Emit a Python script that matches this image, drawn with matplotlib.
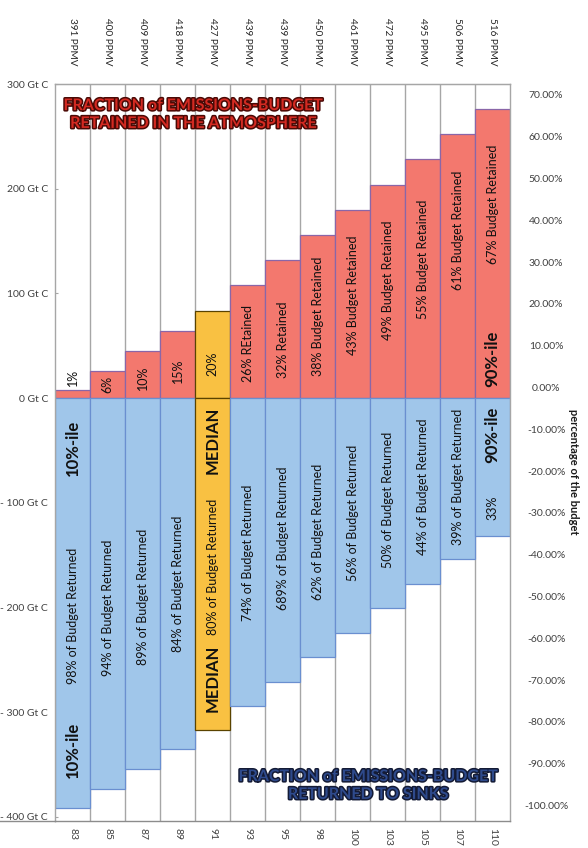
import matplotlib
matplotlib.use('Agg')
import matplotlib.pyplot as plt
import matplotlib.patheffects as pe
from matplotlib.lines import Line2D
from matplotlib.ticker import FixedLocator

plt.rcParams['font.family'] = ['Lato', 'DejaVu Sans']

# concentration reached for each scenario (top axis)
ppmv = [391, 400, 409, 418, 427, 439, 439, 450, 461, 472, 495, 506, 516]
top_labels = [f"{p} PPMV" for p in ppmv]
# bottom axis labels (cut off in the original)
bottom_labels = ["83", "85", "87", "89", "91", "93", "95", "98", "100", "103", "105", "107", "110"]

# Gt C kept in the atmosphere / returned to sinks
retained_gt = [8, 26, 45, 64, 83, 108, 132, 156, 180, 204, 228, 252, 276]
returned_gt = [392, 373, 354, 335, 317, 294, 271, 247, 224, 201, 178, 154, 132]

retained_text = ["1%", "6%", "10%", "15%", "20%", "26% REtained", "32% Retained",
                 "38% Budget Retained", "43% Budget Retained", "49% Budget Retained",
                 "55% Budget Retained", "61% Budget Retained", "67% Budget Retained"]
returned_text = ["98% of Budget Returned", "94% of Budget Returned", "89% of Budget Returned",
                 "84% of Budget Returned", "80% of Budget Returned", "74% of Budget Returned",
                 "689% of Budget Returned", "62% of Budget Returned", "56% of Budget Returned",
                 "50% of Budget Returned", "44% of Budget Returned", "39% of Budget Returned",
                 "33%"]
median_idx = 4

# where the labels sit (Gt C)
retained_label_y = [19.6, 12.9, 19.6, 25.8, 33, 52.5, 55.9, 78, 98.4, 113, 133, 160, 185]
returned_label_y = [-208, -200.6, -189.6, -177, -161, -147.6, -134, -127.5, -110, -97.5, -84.5, -75, -104.6]
big_labels = [("10%-ile", 0, -47.3), ("10%-ile", 0, -336), ("MEDIAN", 4, -40),
              ("MEDIAN", 4, -268), ("90%-ile", 12, 37.7), ("90%-ile", 12, -35.4)]

red = '#F3786E'
blue = '#A0C6EA'
gold = '#F9C142'
grey = '#A6A6A6'

x = list(range(len(ppmv)))
up_colors = [gold if i == median_idx else red for i in x]
dn_colors = [gold if i == median_idx else blue for i in x]
up_edges = ['#5A4300' if i == median_idx else '#8A66A8' for i in x]
dn_edges = ['#5A4300' if i == median_idx else '#6A8FD0' for i in x]

fig = plt.figure(figsize=(5.88, 8.48), dpi=100)
ax = fig.add_axes([55 / 588, 1 - 821 / 848, 455 / 588, 737 / 848])

ax.bar(x, retained_gt, width=1.0, color=up_colors, edgecolor=up_edges, linewidth=0.9, zorder=2)
ax.bar(x, [-v for v in returned_gt], width=1.0, color=dn_colors, edgecolor=dn_edges, linewidth=0.9, zorder=2)

ax.set_xlim(-0.5, len(x) - 0.5)
ax.set_ylim(-404, 300)

# vertical category grid lines
ax.xaxis.set_minor_locator(FixedLocator([i + 0.5 for i in x[:-1]]))
ax.grid(True, which='minor', axis='x', color=grey, linewidth=1.0, zorder=0)
ax.set_axisbelow(True)

ax.set_xticks(x)
ax.set_xticklabels(bottom_labels, rotation=-90, fontsize=7.5, color='#404040')
ax.tick_params(axis='x', which='both', length=0, pad=5)

sec = ax.secondary_xaxis('top')
sec.set_xticks(x)
sec.set_xticklabels(top_labels, rotation=-90, fontsize=7.2, color='#262626')
sec.tick_params(length=0, pad=13)
sec.spines['top'].set_color(grey)

yt = [300, 200, 100, 0, -100, -200, -300, -400]
ax.set_yticks(yt)
ax.set_yticklabels([f"{v} Gt C" if v >= 0 else f"- {-v} Gt C" for v in yt], fontsize=7.5, color='#404040')
ax.tick_params(axis='y', length=2, direction='in', pad=5, color=grey)

for s in ax.spines.values():
    s.set_color(grey)
    s.set_linewidth(1.0)
ax.spines['bottom'].set_color('#8C8C8C')
# horizontal axis line runs on to the left edge
fig.add_artist(Line2D([0, 55 / 588], [1 - 821 / 848] * 2, color='#8C8C8C', linewidth=1.0))

ax2 = ax.twinx()
ax2.set_ylim(-103.7, 72.6)
pt = list(range(-100, 71, 10))
ax2.set_yticks(pt)
ax2.set_yticklabels([f"{v:.2f}%" for v in pt], fontsize=7.5, color='#404040')
ax2.tick_params(axis='y', length=0, pad=26)
for lab in ax2.get_yticklabels():
    lab.set_horizontalalignment('center')
for s in ax2.spines.values():
    s.set_visible(False)
fig.text(573 / 588, 1 - 472 / 848, "percentage of the budget", rotation=-90,
         ha='center', va='center', fontsize=8, fontweight='bold', color='#1a1a1a')

# labels in the bars
for i in x:
    ax.text(i, retained_label_y[i], retained_text[i], rotation=90, ha='center', va='center',
            fontsize=9, color='#111111', zorder=3)
    ax.text(i, returned_label_y[i], returned_text[i], rotation=90, ha='center', va='center',
            fontsize=9, color='#111111', zorder=3)
for txt, i, yv in big_labels:
    ax.text(i, yv, txt, rotation=90, ha='center', va='center', fontsize=12,
            fontweight='bold', color='#111111', zorder=3)

# headings
ax.text(193 / 588, 1 - 115 / 848, "FRACTION of EMISSIONS-BUDGET\nRETAINED IN THE ATMOSPHERE",
        transform=fig.transFigure, ha='center', va='center', fontsize=11.5, fontweight='bold',
        color='#D42A22', linespacing=1.35, zorder=4,
        path_effects=[pe.withStroke(linewidth=2.2, foreground='#4A0A06')])
ax.text(368 / 588, 1 - 786 / 848, "FRACTION of EMISSIONS-BUDGET\nRETURNED TO SINKS",
        transform=fig.transFigure, ha='center', va='center', fontsize=11.5, fontweight='bold',
        color='#2E4A8C', linespacing=1.35, zorder=4,
        path_effects=[pe.withStroke(linewidth=2.2, foreground='#141B35')])

fig.savefig('out.png', dpi=100)
